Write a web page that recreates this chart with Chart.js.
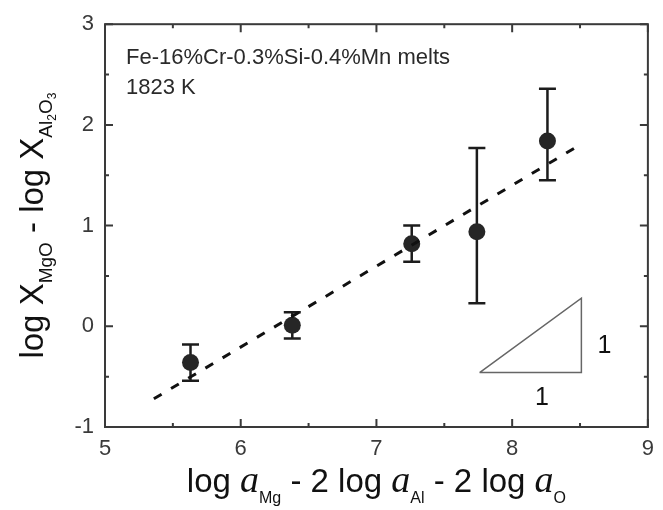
<!DOCTYPE html>
<html>
<head>
<meta charset="utf-8">
<script src="https://cdn.jsdelivr.net/npm/chart.js@4/dist/chart.umd.min.js"></script>
<style>
  html, body { margin: 0; padding: 0; background: #fff; }
  #wrap { width: 663px; height: 510px; }
</style>
</head>
<body>
<div id="wrap"><canvas id="chart" width="663" height="510"></canvas></div>
<script>
// measured points with error bars
var xVals   = [5.63, 6.38, 7.26, 7.74, 8.26]
var yVals   = [-0.36, 0.01, 0.82, 0.94, 1.84]
var errHigh = [-0.18, 0.14, 1.00, 1.77, 2.36]
var errLow  = [-0.54, -0.12, 0.64, 0.23, 1.45]

// fitted line (dashed)
var fitX = [5.36, 8.51]
var fitY = [-0.72, 1.81]

// slope triangle
var triX = [7.76, 8.51, 8.51, 7.76]
var triY = [-0.46, -0.46, 0.28, -0.46]

// axis ticks
var xTicks = [5, 6, 7, 8, 9]
var yTicks = [-1, 0, 1, 2, 3]

var noteLines = ['Fe-16%Cr-0.3%Si-0.4%Mn melts', '1823 K']
var noteX = 5.155
var noteY = [2.667, 2.364]
var triLabels = ['1', '1']
var triLabelX = [8.22, 8.68]
var triLabelY = [-0.71, -0.20]

var sans = '"Liberation Sans", Arial, sans-serif'
var serif = '"Liberation Serif", "Times New Roman", serif'
var ink = '#1c1c1c'

function pts(xs, ys) {
  return xs.map(function(x, i) { return {x: x, y: ys[i]} })
}

function drawRich(ctx, parts, x, y) {
  var total = 0
  parts.forEach(function(p) { ctx.font = p.f; p.w = ctx.measureText(p.t).width; total += p.w })
  var cx = x - total / 2
  ctx.textAlign = 'left'
  ctx.textBaseline = 'alphabetic'
  parts.forEach(function(p) {
    ctx.font = p.f
    ctx.fillText(p.t, cx, y + (p.dy || 0))
    cx += p.w
  })
}

var deco = {
  id: 'deco',
  beforeDatasetsDraw: function(chart) {
    var ctx = chart.ctx, xs = chart.scales.x, ys = chart.scales.y
    ctx.save()
    ctx.strokeStyle = ink
    ctx.lineWidth = 2.5
    xVals.forEach(function(x, i) {
      var px = xs.getPixelForValue(x)
      var top = ys.getPixelForValue(errHigh[i])
      var bot = ys.getPixelForValue(errLow[i])
      ctx.beginPath()
      ctx.moveTo(px, top); ctx.lineTo(px, bot)
      ctx.moveTo(px - 8.5, top); ctx.lineTo(px + 8.5, top)
      ctx.moveTo(px - 8.5, bot); ctx.lineTo(px + 8.5, bot)
      ctx.stroke()
    })
    ctx.restore()
  },
  afterDraw: function(chart) {
    var ctx = chart.ctx, a = chart.chartArea
    var xs = chart.scales.x, ys = chart.scales.y
    ctx.save()
    // frame
    ctx.strokeStyle = '#3a3a3a'
    ctx.lineWidth = 2
    ctx.strokeRect(a.left, a.top, a.right - a.left, a.bottom - a.top)
    // inward ticks on all four sides
    ctx.beginPath()
    xTicks.forEach(function(v, i) {
      var px = xs.getPixelForValue(v)
      ctx.moveTo(px, a.bottom); ctx.lineTo(px, a.bottom - 8)
      ctx.moveTo(px, a.top); ctx.lineTo(px, a.top + 8)
      if (i < xTicks.length - 1) {
        var m = xs.getPixelForValue((v + xTicks[i + 1]) / 2)
        ctx.moveTo(m, a.bottom); ctx.lineTo(m, a.bottom - 4)
        ctx.moveTo(m, a.top); ctx.lineTo(m, a.top + 4)
      }
    })
    yTicks.forEach(function(v, i) {
      var py = ys.getPixelForValue(v)
      ctx.moveTo(a.left, py); ctx.lineTo(a.left + 8, py)
      ctx.moveTo(a.right, py); ctx.lineTo(a.right - 8, py)
      if (i < yTicks.length - 1) {
        var m = ys.getPixelForValue((v + yTicks[i + 1]) / 2)
        ctx.moveTo(a.left, m); ctx.lineTo(a.left + 4, m)
        ctx.moveTo(a.right, m); ctx.lineTo(a.right - 4, m)
      }
    })
    ctx.stroke()

    ctx.fillStyle = '#2a2a2a'
    // composition note
    ctx.font = '22px ' + sans
    ctx.textAlign = 'left'
    ctx.textBaseline = 'middle'
    noteLines.forEach(function(t, i) {
      ctx.fillText(t, xs.getPixelForValue(noteX), ys.getPixelForValue(noteY[i]))
    })
    // triangle labels
    ctx.fillStyle = '#111'
    ctx.font = '25px ' + sans
    ctx.textAlign = 'center'
    triLabels.forEach(function(t, i) {
      ctx.fillText(t, xs.getPixelForValue(triLabelX[i]), ys.getPixelForValue(triLabelY[i]))
    })

    // x title
    var main = '33px ' + sans, ita = 'italic 38px ' + serif, sub = '16px ' + sans
    drawRich(ctx, [
      {t: 'log ', f: main}, {t: 'a', f: ita}, {t: 'Mg', f: sub, dy: 11},
      {t: ' - 2 log ', f: main}, {t: 'a', f: ita}, {t: 'Al', f: sub, dy: 11},
      {t: ' - 2 log ', f: main}, {t: 'a', f: ita}, {t: 'O', f: sub, dy: 11}
    ], (a.left + a.right) / 2, 492)

    // y title
    ctx.translate(43, (a.top + a.bottom) / 2)
    ctx.rotate(-Math.PI / 2)
    var ymain = '33px ' + sans, ysub = '19px ' + sans, ysub2 = '12px ' + sans
    drawRich(ctx, [
      {t: 'log ', f: ymain}, {t: 'X', f: ymain}, {t: 'MgO', f: ysub, dy: 9},
      {t: ' - log ', f: ymain}, {t: 'X', f: ymain}, {t: 'Al', f: ysub, dy: 9},
      {t: '2', f: ysub2, dy: 13}, {t: 'O', f: ysub, dy: 9}, {t: '3', f: ysub2, dy: 13}
    ], 0, 0)
    ctx.restore()
  }
}

new Chart(document.getElementById('chart').getContext('2d'), {
  type: 'scatter',
  data: {
    datasets: [
      {
        label: 'fit', data: pts(fitX, fitY), showLine: true,
        borderColor: '#111', borderWidth: 3, borderDash: [9, 11],
        pointRadius: 0, fill: false
      },
      {
        label: 'slope', data: pts(triX, triY), showLine: true,
        borderColor: '#666', borderWidth: 1.5, pointRadius: 0, fill: false
      },
      {
        label: 'data', data: pts(xVals, yVals),
        pointRadius: 8.5, pointBackgroundColor: '#262626', pointBorderWidth: 0,
        borderColor: '#262626'
      }
    ]
  },
  options: {
    responsive: false,
    animation: false,
    layout: {padding: {left: 0, right: 9, top: 16, bottom: 0}},
    plugins: {legend: {display: false}, tooltip: {enabled: false}},
    scales: {
      x: {
        type: 'linear', min: 5, max: 9,
        afterBuildTicks: function(s) { s.ticks = xTicks.map(function(v) { return {value: v} }) },
        afterFit: function(s) { s.height = 83 },
        grid: {display: false, drawTicks: false},
        border: {display: false},
        ticks: {padding: 9, color: '#3a3a3a', font: {family: sans, size: 22}}
      },
      y: {
        type: 'linear', min: -1, max: 3,
        afterBuildTicks: function(s) { s.ticks = yTicks.map(function(v) { return {value: v} }) },
        afterFit: function(s) { s.width = 105 },
        grid: {display: false, drawTicks: false},
        border: {display: false},
        ticks: {padding: 11, color: '#3a3a3a', font: {family: sans, size: 22}}
      }
    }
  },
  plugins: [deco]
})
</script>
</body>
</html>
